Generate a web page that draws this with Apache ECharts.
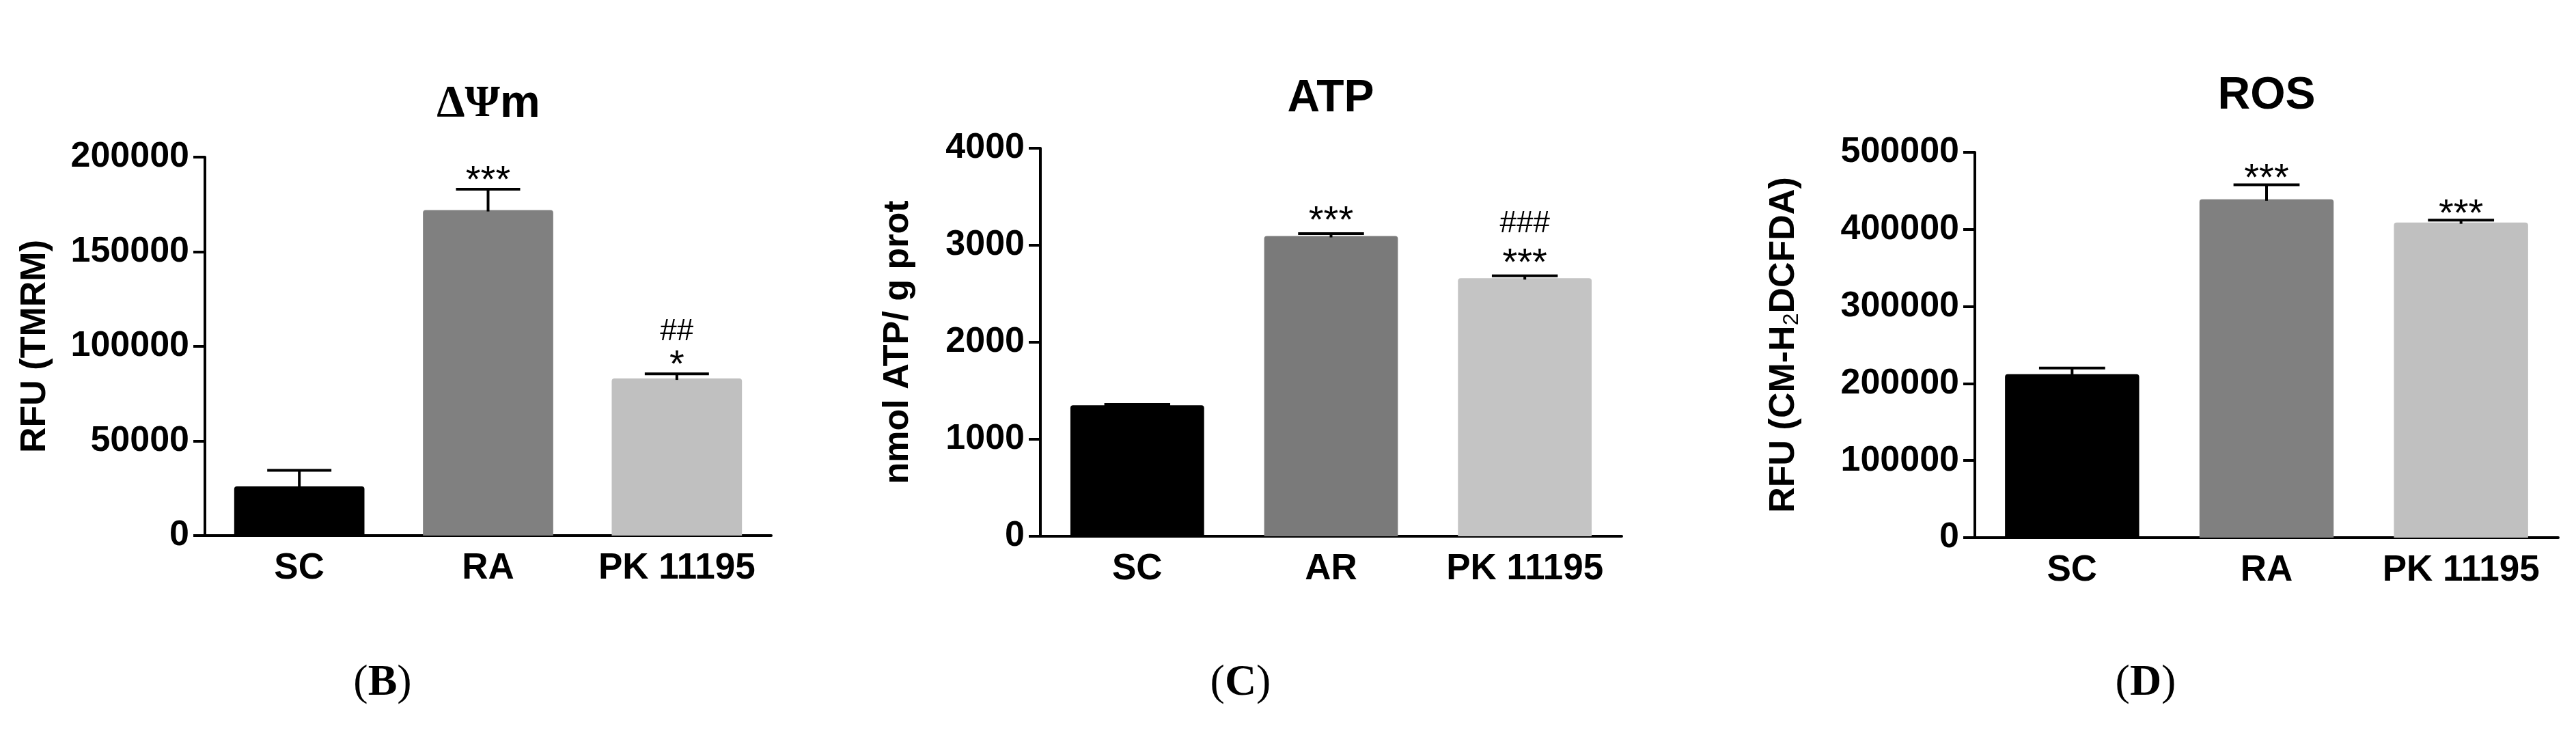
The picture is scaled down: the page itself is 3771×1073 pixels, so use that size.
<!DOCTYPE html>
<html>
<head>
<meta charset="utf-8">
<script src="https://cdn.jsdelivr.net/npm/echarts@6/dist/echarts.min.js"></script>
<style>
html, body { margin: 0; padding: 0; background: #fff; }
#chart { width: 3771px; height: 1073px; }
</style>
</head>
<body>
<div id="chart"></div>
<script>
// 类别
const catsMmp = ['SC', 'RA', 'PK 11195']
const catsAtp = ['SC', 'AR', 'PK 11195']
const catsRos = ['SC', 'RA', 'PK 11195']

// 数值 (均值 / 误差)
const mmpValues = [26000, 172000, 83000]
const mmpErrors = [8500, 11000, 2500]
const atpValues = [1350, 3095, 2660]
const atpErrors = [10, 25, 25]
const rosValues = [212000, 439000, 409000]
const rosErrors = [8000, 19000, 3000]

// 显著性标记
const mmpStars = ['', '***', '*']
const mmpHashes = ['', '', '##']
const atpStars = ['', '***', '***']
const atpHashes = ['', '', '###']
const rosStars = ['', '***', '***']
const rosHashes = ['', '', '']

// 坐标轴刻度
const mmpTicks = [0, 50000, 100000, 150000, 200000]
const atpTicks = [0, 1000, 2000, 3000, 4000]
const rosTicks = [0, 100000, 200000, 300000, 400000, 500000]

const SANS = '"Liberation Sans", Arial, sans-serif'
const SERIF = '"Liberation Serif", "Times New Roman", serif'

const chart = echarts.init(document.getElementById('chart'))

function xAxisOf (idx, cats) {
    return {
        type: 'category',
        gridIndex: idx,
        data: cats,
        axisLine: { lineStyle: { color: '#000', width: 4 } },
        axisTick: { alignWithLabel: true, length: 17, lineStyle: { color: '#000', width: 4 } },
        axisLabel: { interval: 0, color: '#000', fontFamily: SANS, fontWeight: 'bold', fontSize: 53, margin: 22 }
    }
}

function yAxisOf (idx, ticks, name, gap) {
    return {
        type: 'value',
        gridIndex: idx,
        min: ticks[0],
        max: ticks[ticks.length - 1],
        interval: ticks[1] - ticks[0],
        name: name,
        nameLocation: 'middle',
        nameRotate: 90,
        nameGap: gap,
        nameTextStyle: {
            color: '#000', fontFamily: SANS, fontWeight: 'bold', fontSize: 52,
            rich: {
                sub: { fontFamily: SANS, fontWeight: 'normal', fontSize: 32, color: '#000', padding: [22, 0, 0, 0] }
            }
        },
        splitLine: { show: false },
        axisLine: { show: true, lineStyle: { color: '#000', width: 4 } },
        axisTick: { show: true, length: 17, lineStyle: { color: '#000', width: 4 } },
        axisLabel: {
            color: '#000', fontFamily: SANS, fontWeight: 'bold', fontSize: 52, margin: 23,
            formatter: function (v) { return String(v) }
        }
    }
}

function barOf (idx, values, colors) {
    return {
        type: 'bar',
        xAxisIndex: idx,
        yAxisIndex: idx,
        barWidth: '69%',
        z: 1,
        data: values.map((v, i) => ({ value: v, itemStyle: { color: colors[i], borderRadius: [4, 4, 0, 0] } }))
    }
}

// 误差线 + 显著性标记
function errOf (idx, values, errors, stars, hashes, starGap, hashGap) {
    return {
        type: 'custom',
        xAxisIndex: idx,
        yAxisIndex: idx,
        z: 5,
        data: values.map((v, i) => [i, v, errors[i]]),
        renderItem: function (params, api) {
            const i = api.value(0)
            const v = api.value(1)
            const e = api.value(2)
            const base = api.coord([i, v])
            const top = api.coord([i, v + e])
            const half = api.size([1, 0])[0] * 0.17
            const children = [
                { type: 'line', shape: { x1: top[0], y1: base[1] + 2, x2: top[0], y2: top[1] }, style: { stroke: '#000', lineWidth: 4 } },
                { type: 'line', shape: { x1: top[0] - half, y1: top[1], x2: top[0] + half, y2: top[1] }, style: { stroke: '#000', lineWidth: 4 } }
            ]
            const s = stars[params.dataIndex]
            const h = hashes[params.dataIndex]
            if (s) {
                children.push({
                    type: 'text',
                    style: { text: s, x: top[0], y: top[1] - starGap + 11, align: 'center', verticalAlign: 'middle', font: 'normal 56px ' + SANS, fill: '#000' }
                })
            }
            if (h) {
                children.push({
                    type: 'text',
                    style: { text: h, x: top[0], y: top[1] - hashGap, align: 'center', verticalAlign: 'middle', font: 'normal 44px ' + SANS, fill: '#000' }
                })
            }
            return { type: 'group', children: children }
        }
    }
}

function panelTitle (text, x, top) {
    return {
        text: text,
        left: x,
        top: top,
        textAlign: 'center',
        padding: 0,
        textStyle: {
            color: '#000', fontFamily: SANS, fontWeight: 'bold', fontSize: 66,
            rich: {
                g: { fontFamily: SERIF, fontWeight: 'bold', fontSize: 66, color: '#000' },
                m: { fontFamily: SANS, fontWeight: 'bold', fontSize: 66, color: '#000' }
            }
        }
    }
}

function panelLetter (letter, x) {
    return {
        text: '{p|(}{b|' + letter + '}{p|)}',
        left: x,
        top: 968,
        textAlign: 'center',
        padding: 0,
        textStyle: {
            rich: {
                p: { fontFamily: SERIF, fontWeight: 'normal', fontSize: 64, color: '#000' },
                b: { fontFamily: SERIF, fontWeight: 'bold', fontSize: 64, color: '#000' }
            }
        }
    }
}

const option = {
    backgroundColor: '#fff',
    animation: false,
    title: [
        panelTitle('{g|ΔΨ}{m|m}', 715, 120),
        panelTitle('ATP', 1948, 112),
        panelTitle('ROS', 3318, 108),
        panelLetter('B', 560),
        panelLetter('C', 1816),
        panelLetter('D', 3141)
    ],
    grid: [
        { left: 300, top: 230, width: 829, height: 554 },
        { left: 1523, top: 217, width: 851, height: 568 },
        { left: 2891, top: 223, width: 854, height: 564 }
    ],
    xAxis: [xAxisOf(0, catsMmp), xAxisOf(1, catsAtp), xAxisOf(2, catsRos)],
    yAxis: [
        yAxisOf(0, mmpTicks, 'RFU (TMRM)', 222),
        yAxisOf(1, atpTicks, 'nmol ATP/ g prot', 182),
        yAxisOf(2, rosTicks, 'RFU (CM-H{sub|2}DCFDA)', 252)
    ],
    series: [
        barOf(0, mmpValues, ['#000000', '#808080', '#c0c0c0']),
        barOf(1, atpValues, ['#000000', '#7a7a7a', '#c4c4c4']),
        barOf(2, rosValues, ['#000000', '#808080', '#c0c0c0']),
        errOf(0, mmpValues, mmpErrors, mmpStars, mmpHashes, 23, 61),
        errOf(1, atpValues, atpErrors, atpStars, atpHashes, 28, 76),
        errOf(2, rosValues, rosErrors, rosStars, rosHashes, 19, 0)
    ]
}
chart.setOption(option)
</script>
</body>
</html>
